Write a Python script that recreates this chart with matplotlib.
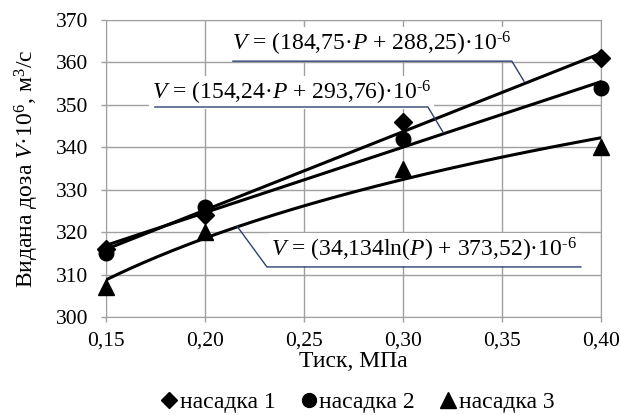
import numpy as np
import matplotlib
matplotlib.use("Agg")
import matplotlib.pyplot as plt
from matplotlib.lines import Line2D

# ── Data ───────────────────────────────────────────────────────────────────────

pressure = [0.15, 0.20, 0.30, 0.40]            # МПа
nozzle_1 = [316, 324, 346, 361]                # V·10^6, м³/с
nozzle_2 = [315, 326, 342, 354]
nozzle_3 = [307, 320, 335, 340]

series_labels = ["насадка 1", "насадка 2", "насадка 3"]
x_ticks = [0.15, 0.20, 0.25, 0.30, 0.35, 0.40]
x_tick_labels = ["0,15", "0,20", "0,25", "0,30", "0,35", "0,40"]
y_ticks = [300, 310, 320, 330, 340, 350, 360, 370]

eq_1 = r"$V$ = (184,75·$P$ + 288,25)·10$^{\text{-6}}$"
eq_2 = r"$V$ = (154,24·$P$ + 293,76)·10$^{\text{-6}}$"
eq_3 = r"$V$ = (34,134ln($P$) + 373,52)·10$^{\text{-6}}$"

# ── Style ──────────────────────────────────────────────────────────────────────

plt.rcParams["font.family"] = ["Liberation Serif", "DejaVu Serif"]
plt.rcParams["mathtext.fontset"] = "custom"
plt.rcParams["mathtext.rm"] = "Liberation Serif"
plt.rcParams["mathtext.it"] = "Liberation Serif:italic"

GRID = "#a0a0a0"
LEADER = "#2f4170"
FS_TICK = 15.5
FS = 17

fig = plt.figure(figsize=(6.21, 4.15), dpi=100)
ax = fig.add_axes([0.1707, 0.2361, 0.797, 0.7157])

# trend lines fitted to the measured points
xs = np.linspace(0.15, 0.40, 200)
k1, b1 = np.polyfit(pressure, nozzle_1, 1)
k2, b2 = np.polyfit(pressure, nozzle_2, 1)
k3, b3 = np.polyfit(np.log(pressure), nozzle_3, 1)
ax.plot(xs, k1 * xs + b1, color="black", lw=2.2, zorder=3)
ax.plot(xs, k2 * xs + b2, color="black", lw=2.2, zorder=3)
ax.plot(xs, k3 * np.log(xs) + b3, color="black", lw=2.2, zorder=3)

ax.plot(pressure, nozzle_1, "D", color="black", ms=9.5, ls="none", zorder=4, clip_on=False)
ax.plot(pressure, nozzle_2, "o", color="black", ms=10.5, ls="none", zorder=4, clip_on=False)
ax.plot(pressure, nozzle_3, "^", color="black", ms=12, ls="none", zorder=4, clip_on=False)

# equation labels with leader lines
box = dict(facecolor="white", edgecolor="none", pad=2)
ax.text(0.2845, 364.3, eq_1, ha="center", va="center", fontsize=FS, bbox=box, zorder=5)
ax.plot([0.2141, 0.355, 0.3611], [360.3, 360.3, 355.6], color=LEADER, lw=1.0, zorder=6)

ax.text(0.2436, 352.9, eq_2, ha="center", va="center", fontsize=FS, bbox=box, zorder=5)
ax.plot([0.1747, 0.3126, 0.3202], [349.5, 349.5, 343.6], color=LEADER, lw=1.0, zorder=6)

ax.text(0.3108, 315.9, eq_3, ha="center", va="center", fontsize=FS, bbox=box, zorder=5)
ax.plot([0.2162, 0.2313, 0.3899], [321.4, 311.8, 311.8], color=LEADER, lw=1.0, zorder=6)

# axes
ax.set_xlim(0.15, 0.40)
ax.set_ylim(300, 370)
ax.set_xticks(x_ticks)
ax.set_xticklabels(x_tick_labels)
ax.set_yticks(y_ticks)
ax.grid(True, color=GRID, lw=1.0)
ax.set_axisbelow(True)
for s in ax.spines.values():
    s.set_color(GRID)
ax.tick_params(colors=GRID, labelcolor="black", labelsize=FS_TICK, length=3.6, width=1.0)
ax.tick_params(axis="x", pad=7)
ax.tick_params(axis="y", pad=9)

ax.set_xlabel("Тиск, МПа", fontsize=FS, labelpad=0)
ax.set_ylabel(r"Видана доза $V$·10$^{\mathrm{6}}$, м$^{\mathrm{3}}$/с", fontsize=FS, labelpad=11)

handles = [
    Line2D([], [], marker="D", color="black", ls="none", ms=8),
    Line2D([], [], marker="o", color="black", ls="none", ms=10),
    Line2D([], [], marker="^", color="black", ls="none", ms=11),
]
fig.legend(handles, series_labels, loc="center", bbox_to_anchor=(0.577, 0.03),
           ncol=3, frameon=False, fontsize=FS, handlelength=0.6,
           handletextpad=0.15, columnspacing=1.1)

fig.savefig("out.png", dpi=100)
